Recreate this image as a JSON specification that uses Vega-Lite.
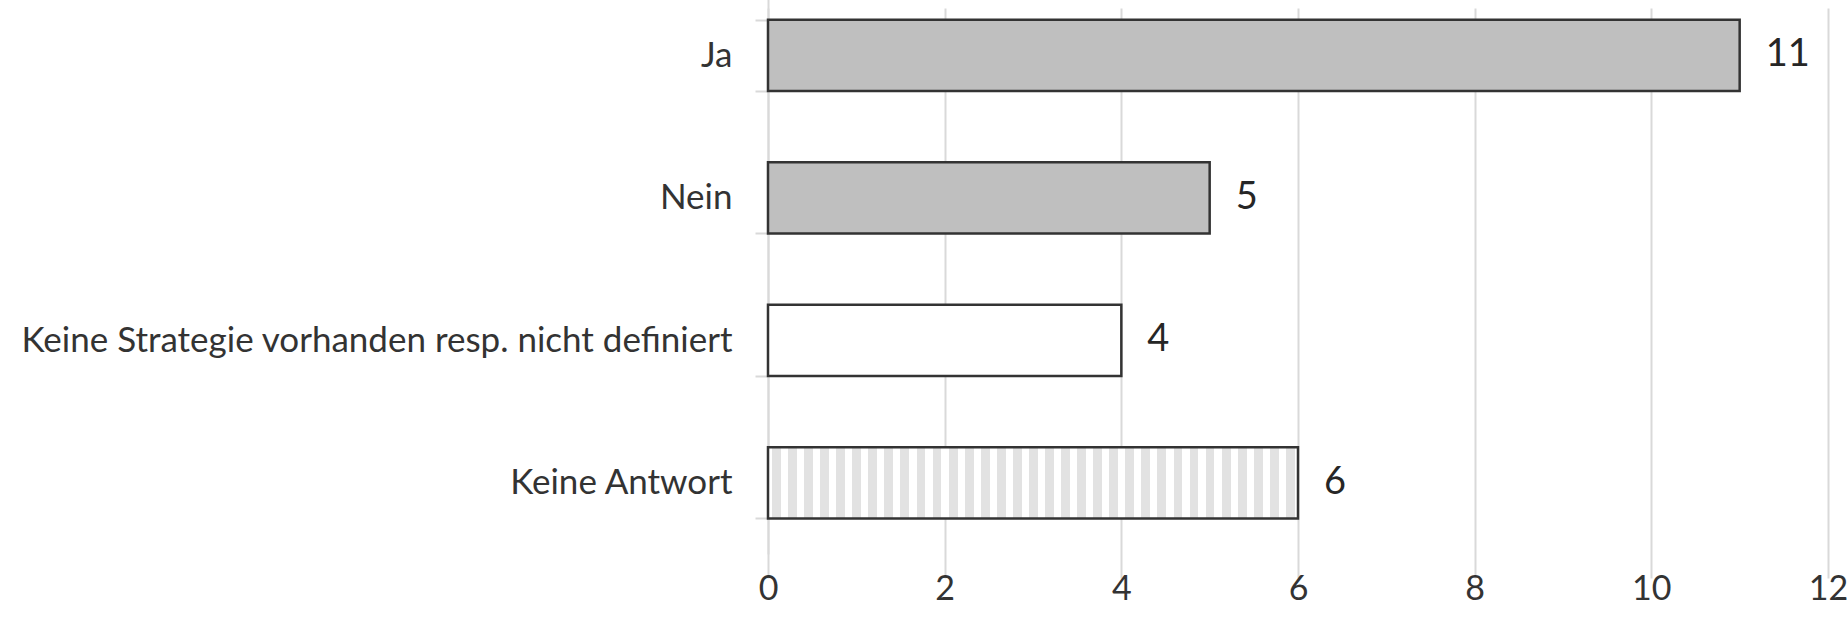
{
  "$schema": "https://vega.github.io/schema/vega-lite/v6.json",
  "width": 1060,
  "height": 544,
  "autosize": "none",
  "padding": {"left": 768, "top": 9, "right": 19, "bottom": 65},
  "background": "white",
  "config": {"view": {"stroke": null}, "font": "Lato"},
  "data": {"values": [
    {"antwort": "Ja", "anzahl": 11},
    {"antwort": "Nein", "anzahl": 5},
    {"antwort": "Keine Strategie vorhanden resp. nicht definiert", "anzahl": 4},
    {"antwort": "Keine Antwort", "anzahl": 6}
  ]},
  "encoding": {
    "y": {
      "field": "antwort", "type": "nominal", "sort": null, "title": null,
      "scale": {"range": [-25, 545], "paddingInner": 0.5, "paddingOuter": 0.25},
      "axis": {
        "domain": true, "domainColor": "#d9d9d9", "domainWidth": 2,
        "ticks": true, "tickBand": "extent", "tickColor": "#d9d9d9", "tickSize": 13, "tickWidth": 2,
        "labelPadding": 23, "labelFontSize": 35, "labelColor": "#333333", "labelLimit": 1200,
        "grid": false
      }
    },
    "x": {
      "field": "anzahl", "type": "quantitative", "title": null,
      "scale": {"domain": [0, 12], "nice": false},
      "axis": {
        "values": [0, 2, 4, 6, 8, 10, 12],
        "domain": false, "ticks": false, "grid": true, "gridColor": "#d9d9d9", "gridWidth": 2,
        "labelPadding": 19, "labelFontSize": 34, "labelColor": "#333333", "labelFlush": false
      }
    }
  },
  "layer": [
    {
      "mark": {"type": "bar", "stroke": "#333333", "strokeWidth": 2.5},
      "encoding": {
        "fill": {
          "condition": [
            {"test": "datum.antwort === 'Keine Antwort'", "value": {"gradient": "linear", "x1": 0, "x2": 1, "y1": 0, "y2": 0, "stops": [
              {"offset": 0, "color": "#ffffff"},
              {"offset": 0.00758, "color": "#ffffff"}, {"offset": 0.00758, "color": "#e2e2e2"}, {"offset": 0.02424, "color": "#e2e2e2"}, {"offset": 0.02424, "color": "#ffffff"},
              {"offset": 0.03788, "color": "#ffffff"}, {"offset": 0.03788, "color": "#e2e2e2"}, {"offset": 0.05455, "color": "#e2e2e2"}, {"offset": 0.05455, "color": "#ffffff"},
              {"offset": 0.06818, "color": "#ffffff"}, {"offset": 0.06818, "color": "#e2e2e2"}, {"offset": 0.08485, "color": "#e2e2e2"}, {"offset": 0.08485, "color": "#ffffff"},
              {"offset": 0.09848, "color": "#ffffff"}, {"offset": 0.09848, "color": "#e2e2e2"}, {"offset": 0.11515, "color": "#e2e2e2"}, {"offset": 0.11515, "color": "#ffffff"},
              {"offset": 0.12879, "color": "#ffffff"}, {"offset": 0.12879, "color": "#e2e2e2"}, {"offset": 0.14545, "color": "#e2e2e2"}, {"offset": 0.14545, "color": "#ffffff"},
              {"offset": 0.15909, "color": "#ffffff"}, {"offset": 0.15909, "color": "#e2e2e2"}, {"offset": 0.17576, "color": "#e2e2e2"}, {"offset": 0.17576, "color": "#ffffff"},
              {"offset": 0.18939, "color": "#ffffff"}, {"offset": 0.18939, "color": "#e2e2e2"}, {"offset": 0.20606, "color": "#e2e2e2"}, {"offset": 0.20606, "color": "#ffffff"},
              {"offset": 0.21970, "color": "#ffffff"}, {"offset": 0.21970, "color": "#e2e2e2"}, {"offset": 0.23636, "color": "#e2e2e2"}, {"offset": 0.23636, "color": "#ffffff"},
              {"offset": 0.25, "color": "#ffffff"}, {"offset": 0.25, "color": "#e2e2e2"}, {"offset": 0.26667, "color": "#e2e2e2"}, {"offset": 0.26667, "color": "#ffffff"},
              {"offset": 0.28030, "color": "#ffffff"}, {"offset": 0.28030, "color": "#e2e2e2"}, {"offset": 0.29697, "color": "#e2e2e2"}, {"offset": 0.29697, "color": "#ffffff"},
              {"offset": 0.31061, "color": "#ffffff"}, {"offset": 0.31061, "color": "#e2e2e2"}, {"offset": 0.32727, "color": "#e2e2e2"}, {"offset": 0.32727, "color": "#ffffff"},
              {"offset": 0.34091, "color": "#ffffff"}, {"offset": 0.34091, "color": "#e2e2e2"}, {"offset": 0.35758, "color": "#e2e2e2"}, {"offset": 0.35758, "color": "#ffffff"},
              {"offset": 0.37121, "color": "#ffffff"}, {"offset": 0.37121, "color": "#e2e2e2"}, {"offset": 0.38788, "color": "#e2e2e2"}, {"offset": 0.38788, "color": "#ffffff"},
              {"offset": 0.40152, "color": "#ffffff"}, {"offset": 0.40152, "color": "#e2e2e2"}, {"offset": 0.41818, "color": "#e2e2e2"}, {"offset": 0.41818, "color": "#ffffff"},
              {"offset": 0.43182, "color": "#ffffff"}, {"offset": 0.43182, "color": "#e2e2e2"}, {"offset": 0.44848, "color": "#e2e2e2"}, {"offset": 0.44848, "color": "#ffffff"},
              {"offset": 0.46212, "color": "#ffffff"}, {"offset": 0.46212, "color": "#e2e2e2"}, {"offset": 0.47879, "color": "#e2e2e2"}, {"offset": 0.47879, "color": "#ffffff"},
              {"offset": 0.49242, "color": "#ffffff"}, {"offset": 0.49242, "color": "#e2e2e2"}, {"offset": 0.50909, "color": "#e2e2e2"}, {"offset": 0.50909, "color": "#ffffff"},
              {"offset": 0.52273, "color": "#ffffff"}, {"offset": 0.52273, "color": "#e2e2e2"}, {"offset": 0.53939, "color": "#e2e2e2"}, {"offset": 0.53939, "color": "#ffffff"},
              {"offset": 0.55303, "color": "#ffffff"}, {"offset": 0.55303, "color": "#e2e2e2"}, {"offset": 0.56970, "color": "#e2e2e2"}, {"offset": 0.56970, "color": "#ffffff"},
              {"offset": 0.58333, "color": "#ffffff"}, {"offset": 0.58333, "color": "#e2e2e2"}, {"offset": 0.6, "color": "#e2e2e2"}, {"offset": 0.6, "color": "#ffffff"},
              {"offset": 0.61364, "color": "#ffffff"}, {"offset": 0.61364, "color": "#e2e2e2"}, {"offset": 0.63030, "color": "#e2e2e2"}, {"offset": 0.63030, "color": "#ffffff"},
              {"offset": 0.64394, "color": "#ffffff"}, {"offset": 0.64394, "color": "#e2e2e2"}, {"offset": 0.66061, "color": "#e2e2e2"}, {"offset": 0.66061, "color": "#ffffff"},
              {"offset": 0.67424, "color": "#ffffff"}, {"offset": 0.67424, "color": "#e2e2e2"}, {"offset": 0.69091, "color": "#e2e2e2"}, {"offset": 0.69091, "color": "#ffffff"},
              {"offset": 0.70455, "color": "#ffffff"}, {"offset": 0.70455, "color": "#e2e2e2"}, {"offset": 0.72121, "color": "#e2e2e2"}, {"offset": 0.72121, "color": "#ffffff"},
              {"offset": 0.73485, "color": "#ffffff"}, {"offset": 0.73485, "color": "#e2e2e2"}, {"offset": 0.75152, "color": "#e2e2e2"}, {"offset": 0.75152, "color": "#ffffff"},
              {"offset": 0.76515, "color": "#ffffff"}, {"offset": 0.76515, "color": "#e2e2e2"}, {"offset": 0.78182, "color": "#e2e2e2"}, {"offset": 0.78182, "color": "#ffffff"},
              {"offset": 0.79545, "color": "#ffffff"}, {"offset": 0.79545, "color": "#e2e2e2"}, {"offset": 0.81212, "color": "#e2e2e2"}, {"offset": 0.81212, "color": "#ffffff"},
              {"offset": 0.82576, "color": "#ffffff"}, {"offset": 0.82576, "color": "#e2e2e2"}, {"offset": 0.84242, "color": "#e2e2e2"}, {"offset": 0.84242, "color": "#ffffff"},
              {"offset": 0.85606, "color": "#ffffff"}, {"offset": 0.85606, "color": "#e2e2e2"}, {"offset": 0.87273, "color": "#e2e2e2"}, {"offset": 0.87273, "color": "#ffffff"},
              {"offset": 0.88636, "color": "#ffffff"}, {"offset": 0.88636, "color": "#e2e2e2"}, {"offset": 0.90303, "color": "#e2e2e2"}, {"offset": 0.90303, "color": "#ffffff"},
              {"offset": 0.91667, "color": "#ffffff"}, {"offset": 0.91667, "color": "#e2e2e2"}, {"offset": 0.93333, "color": "#e2e2e2"}, {"offset": 0.93333, "color": "#ffffff"},
              {"offset": 0.94697, "color": "#ffffff"}, {"offset": 0.94697, "color": "#e2e2e2"}, {"offset": 0.96364, "color": "#e2e2e2"}, {"offset": 0.96364, "color": "#ffffff"},
              {"offset": 0.97727, "color": "#ffffff"}, {"offset": 0.97727, "color": "#e2e2e2"}, {"offset": 0.99394, "color": "#e2e2e2"}, {"offset": 0.99394, "color": "#ffffff"},
              {"offset": 1, "color": "#ffffff"}
            ]}},
            {"test": "datum.antwort === 'Keine Strategie vorhanden resp. nicht definiert'", "value": "#ffffff"}
          ],
          "value": "#bfbfbf"
        }
      }
    },
    {
      "mark": {"type": "text", "align": "left", "baseline": "middle", "dx": 26, "fontSize": 38, "color": "#262626"},
      "encoding": {"text": {"field": "anzahl", "type": "quantitative"}}
    }
  ]
}
